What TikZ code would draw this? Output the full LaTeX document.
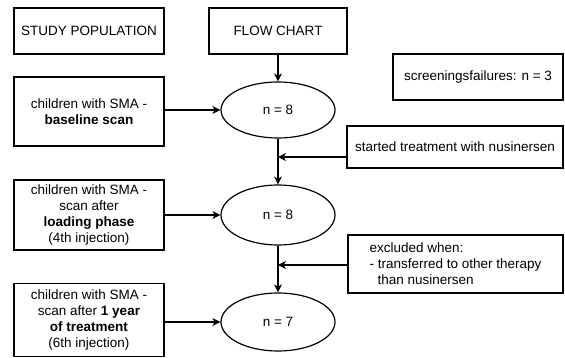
\documentclass[tikz,border=0pt]{standalone}
\usepackage{fontspec}
\setmainfont{Liberation Sans}
\usepackage{tikz}
\usetikzlibrary{positioning,shapes.geometric,arrows.meta}

\tikzset{
  stage/.style={draw,line width=1.2pt,align=center,inner sep=2pt,font=\fontsize{13.5}{16}\selectfont},
  count/.style={draw,ellipse,line width=1.2pt,minimum width=114pt,inner sep=0pt,font=\fontsize{13.5}{16}\selectfont},
  flowarrow/.style={line width=1.2pt,-{Stealth[length=8pt,width=8pt,inset=2.5pt]}}
}

\begin{document}
\begin{tikzpicture}[x=1pt,y=1pt]
            \useasboundingbox (0,0) rectangle (565,-358);
            % left column
            \node[stage,minimum width=150pt,minimum height=46pt] (study) at (89,-31) {STUDY POPULATION};
            \node[stage,minimum width=150pt,minimum height=69pt] (baseline) at (89,-111.5) {children with SMA -\\\textbf{baseline scan}};
            \node[stage,minimum width=150pt,minimum height=70pt] (loading) at (89,-215) {children with SMA -\\scan after\\\textbf{loading phase}\\(4th injection)};
            \node[stage,minimum width=150pt,minimum height=73pt] (oneyear) at (89,-320) {children with SMA -\\scan after \textbf{1 year}\\\textbf{of treatment}\\(6th injection)};
            % flow chart column
            \node[stage,minimum width=138pt,minimum height=46pt] (flow) at (278,-31) {FLOW CHART};
            \node[count,minimum height=56pt] (nfirst) at (278,-110) {n = 8};
            \node[count,minimum height=60pt] (nsecond) at (278,-215) {n = 8};
            \node[count,minimum height=58pt] (nthird) at (278,-322) {n = 7};
            % right column
            \node[stage,minimum width=170pt,minimum height=46pt] (screen) at (478,-77) {screeningsfailures: n = 3};
            \node[stage,minimum width=216pt,minimum height=42pt] (started) at (455,-147) {started treatment with nusinersen};
            \node[stage,minimum width=215pt,minimum height=58pt,align=left] (excluded) at (455.5,-264) {excluded when:\\- transferred to other therapy\\\hspace*{0.6em}than nusinersen};
            \coordinate (jstart) at (278,-157);
            \coordinate (jexcl) at (278,-265);
            % connectors
            \draw[flowarrow] (flow) -- (nfirst);
            \draw[flowarrow] (nfirst) -- (nsecond);
            \draw[flowarrow] (nsecond) -- (nthird);
            \draw[flowarrow] (baseline.east |- nfirst) -- (nfirst.west);
            \draw[flowarrow] (loading.east |- nsecond) -- (nsecond.west);
            \draw[flowarrow] (oneyear.east |- nthird) -- (nthird.west);
            \draw[flowarrow] (started.west |- jstart) -- (jstart);
            \draw[flowarrow] (excluded.west |- jexcl) -- (jexcl);
        \end{tikzpicture}
\end{document}
